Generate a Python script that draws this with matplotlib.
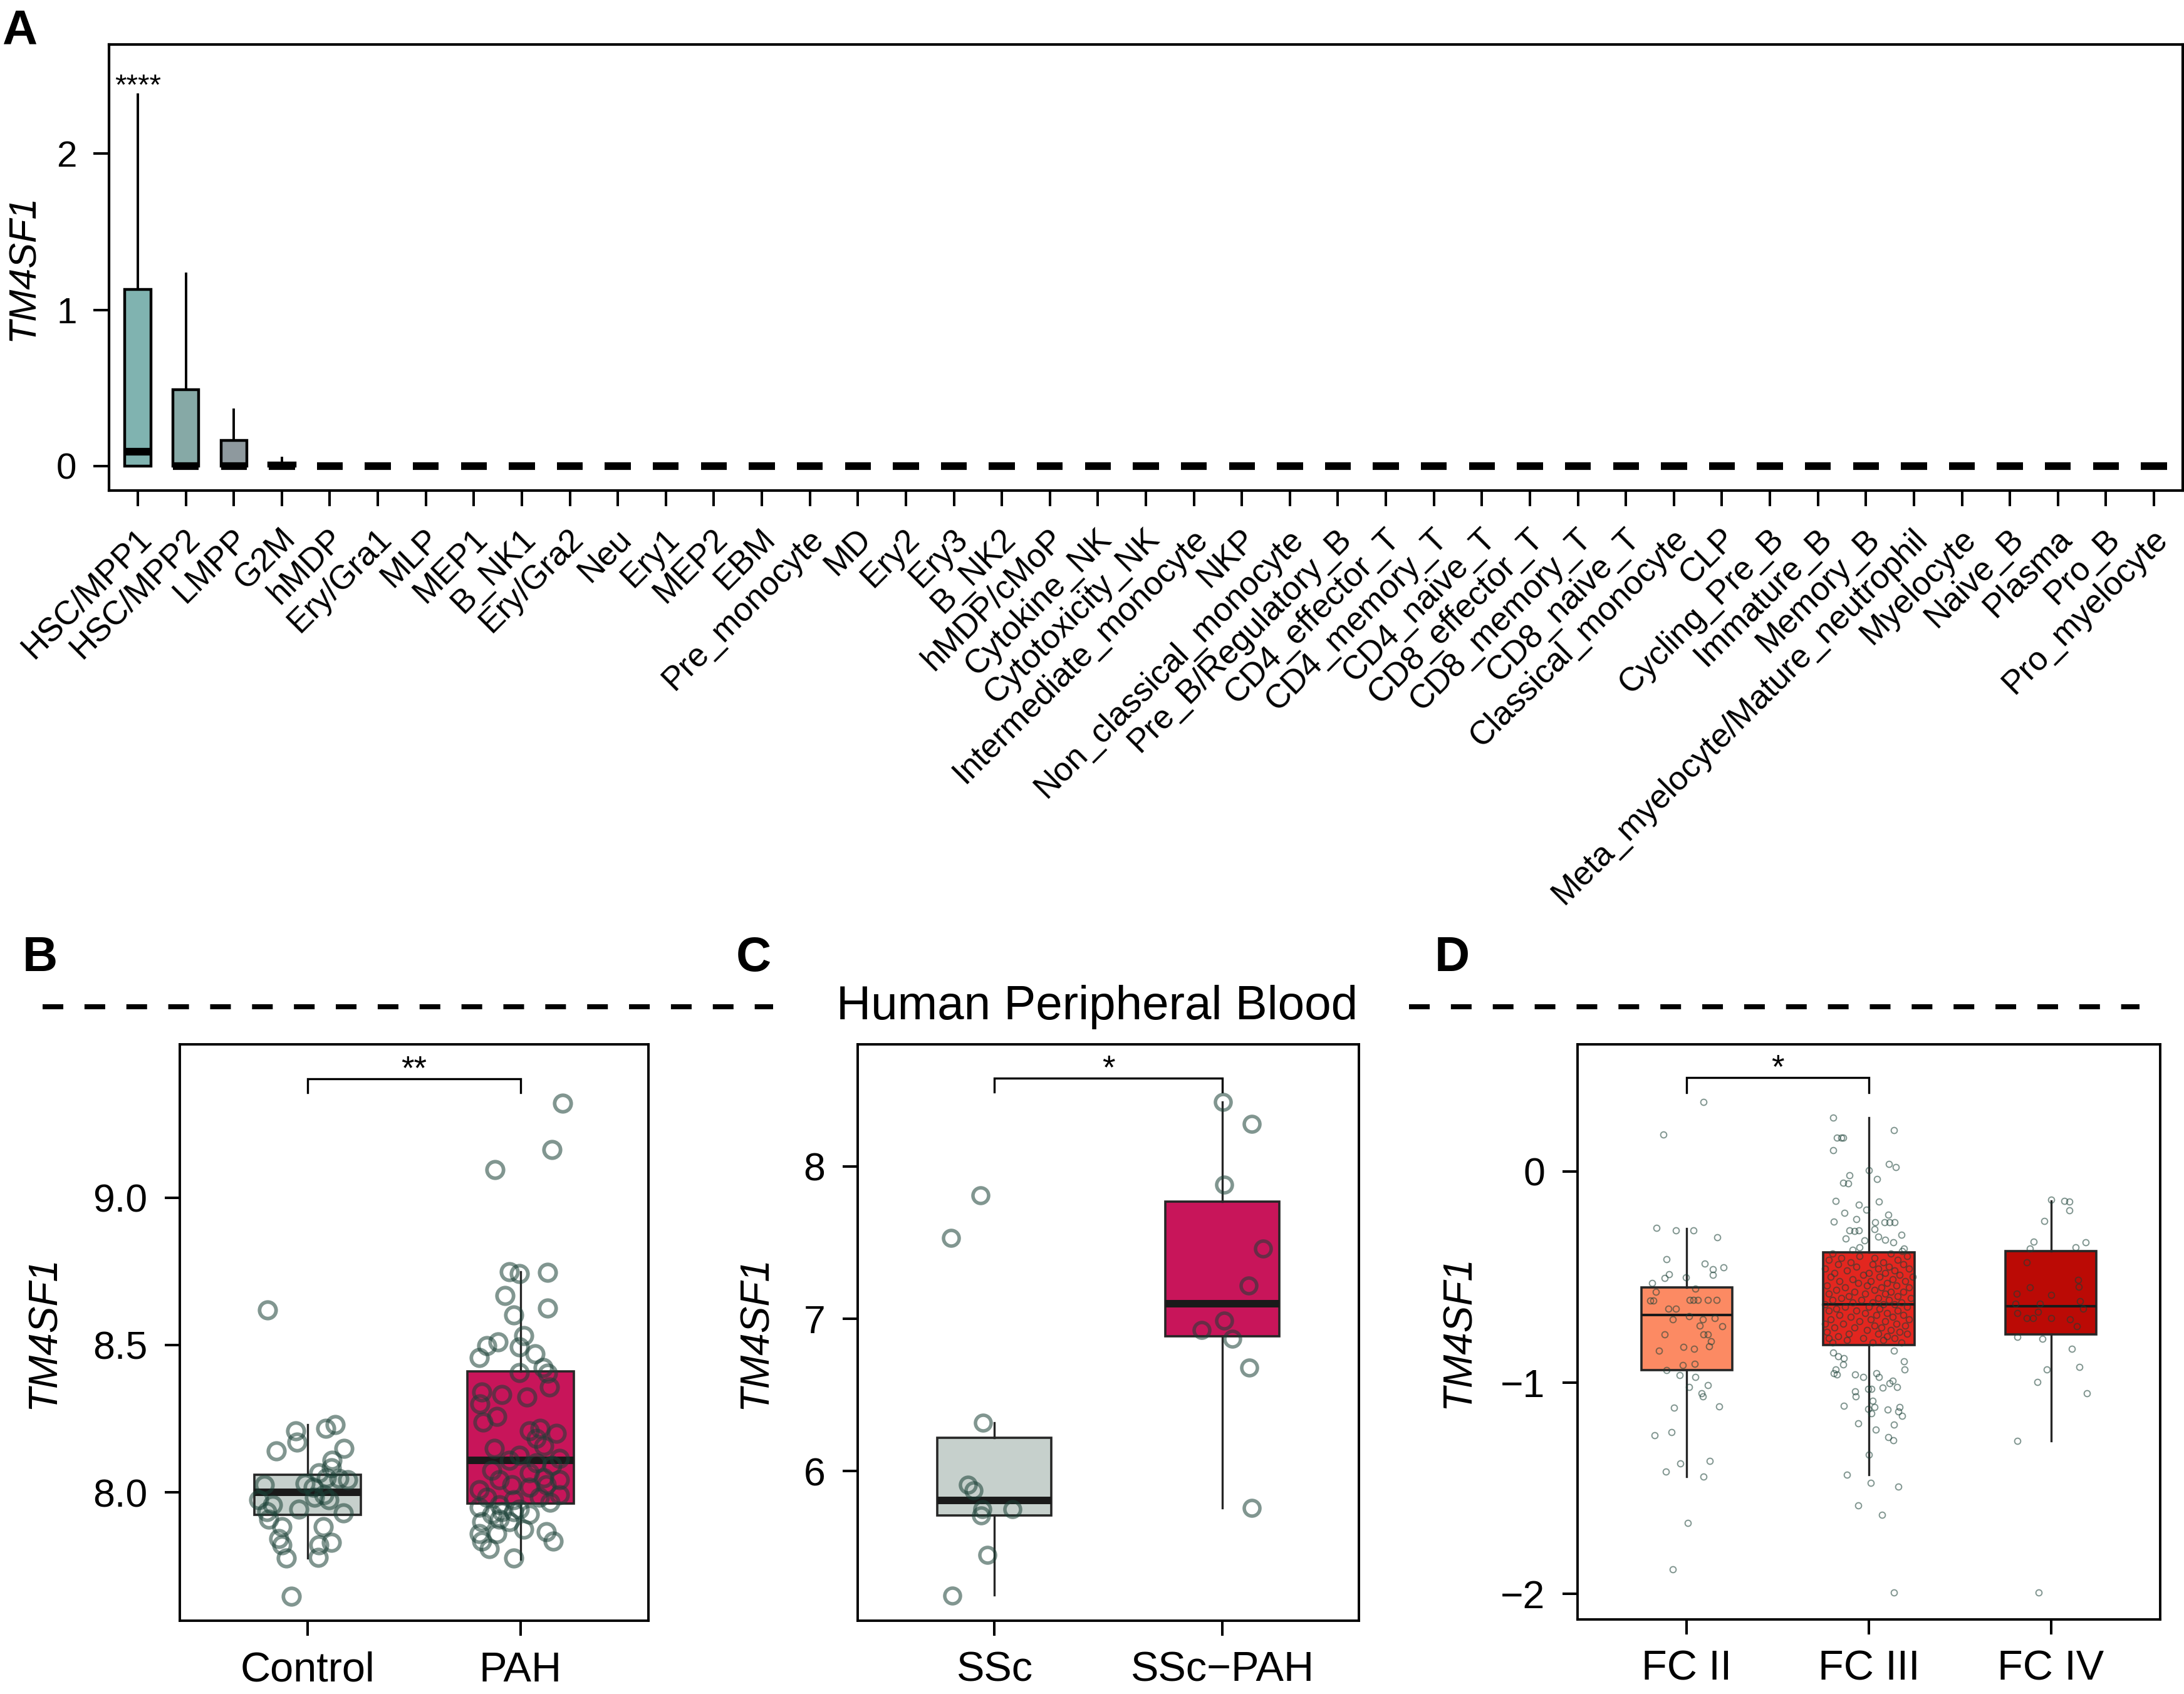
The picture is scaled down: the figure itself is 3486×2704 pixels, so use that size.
import numpy as np
import matplotlib
matplotlib.use('Agg')
import matplotlib.pyplot as plt
from matplotlib.lines import Line2D
from matplotlib.transforms import ScaledTranslation

plt.rcParams['font.family'] = ['Liberation Sans', 'DejaVu Sans']

# ---------------- data ----------------
cell_types = ["HSC/MPP1", "HSC/MPP2", "LMPP", "G2M", "hMDP", "Ery/Gra1", "MLP", "MEP1",
              "B_NK1", "Ery/Gra2", "Neu", "Ery1", "MEP2", "EBM", "Pre_monocyte", "MD",
              "Ery2", "Ery3", "B_NK2", "hMDP/cMoP", "Cytokine_NK", "Cytotoxicity_NK",
              "Intermediate_monocyte", "NKP", "Non_classical_monocyte", "Pre_B/Regulatory_B",
              "CD4_effector_T", "CD4_memory_T", "CD4_naive_T", "CD8_effector_T",
              "CD8_memory_T", "CD8_naive_T", "Classical_monocyte", "CLP", "Cycling_Pre_B",
              "Immature_B", "Memory_B", "Meta_myelocyte/Mature_neutrophil", "Myelocyte",
              "Naive_B", "Plasma", "Pro_B", "Pro_myelocyte"]
n_a = len(cell_types)
a_q1 = [0.0] * n_a
a_med = [0.09] + [0.0] * (n_a - 1)
a_q3 = [1.13, 0.49, 0.165, 0.02] + [0.0] * (n_a - 4)
a_whislo = [0.0] * n_a
a_whishi = [2.38, 1.23, 0.36, 0.05] + [0.0] * (n_a - 4)
a_colors = ["#80b3b0", "#86a9a6", "#8e999e"] + ["#7f8a8a"] * (n_a - 3)
a_sig = "****"

# Panel B
b_groups = ["Control", "PAH"]
b_q1 = [7.923, 7.962]
b_med = [8.0, 8.108]
b_q3 = [8.06, 8.41]
b_whislo = [7.777, 7.772]
b_whishi = [8.23, 8.749]
b_ctrl_vals = [8.62, 8.14, 8.208, 8.171, 8.216, 8.229, 8.148, 8.108, 8.066, 8.030, 8.017,
               8.050, 8.047, 8.042, 8.083, 8.025, 7.975, 7.958, 7.934, 7.942, 7.983, 7.992,
               7.975, 7.909, 7.929, 7.884, 7.884, 7.842, 7.822, 7.829, 7.822, 7.776, 7.779,
               7.648]
b_ctrl_jit = [-0.188, -0.146, -0.056, -0.049, 0.085, 0.129, 0.171, 0.115, 0.054, -0.012,
              0.026, 0.089, 0.148, 0.188, 0.113, -0.204, -0.228, -0.164, -0.192, -0.040,
              0.031, 0.077, 0.101, -0.181, 0.167, -0.122, 0.073, -0.134, -0.122, 0.113,
              0.054, -0.099, 0.049, -0.075]
b_pah_vals = [9.321, 9.163, 9.096, 8.748, 8.743, 8.746, 8.669, 8.601, 8.626, 8.457, 8.498,
              8.510, 8.532, 8.493, 8.470, 8.424, 8.404, 8.407, 8.341, 8.332, 8.324, 8.357,
              8.299, 8.257, 8.238, 8.208, 8.216, 8.199, 8.183, 8.150, 8.158, 8.125, 8.108,
              8.116, 8.100, 8.091, 8.075, 8.066, 8.050, 8.042, 8.042, 8.025, 8.017, 8.025,
              8.008, 7.992, 7.983, 7.975, 7.983, 7.958, 7.967, 7.950, 7.942, 7.925, 7.934,
              7.934, 7.925, 7.900, 7.909, 7.900, 7.859, 7.859, 7.875, 7.867, 7.834, 7.809,
              7.834, 7.776]
b_pah_jit = [0.197, 0.146, -0.120, -0.054, -0.007, 0.127, -0.073, -0.031, 0.127, -0.195,
             -0.160, -0.106, 0.016, -0.007, 0.068, 0.106, 0.127, -0.007, -0.183, -0.089,
             0.028, 0.134, -0.190, -0.113, -0.176, 0.040, 0.092, 0.169, 0.075, -0.124,
             0.110, -0.007, -0.054, 0.181, 0.075, 0.146, -0.136, 0.040, 0.110, -0.101,
             0.181, -0.042, 0.040, 0.122, -0.195, 0.181, -0.160, -0.031, 0.087, -0.101,
             0.138, -0.195, -0.007, -0.136, -0.089, -0.031, 0.040, -0.183, -0.101, -0.054,
             -0.195, -0.113, 0.016, 0.122, -0.183, -0.148, 0.153, -0.031]
b_sig = "**"

# Panel C
c_groups = ["SSc", "SSc\u2212PAH"]
c_q1 = [5.71, 6.885]
c_med = [5.81, 7.10]
c_q3 = [6.218, 7.77]
c_whislo = [5.19, 5.76]
c_whishi = [6.32, 8.42]
c_ssc_vals = [7.53, 7.81, 6.32, 5.91, 5.875, 5.75, 5.71, 5.75, 5.45, 5.185]
c_ssc_jit = [-0.19, -0.06, -0.05, -0.115, -0.09, -0.054, -0.057, 0.08, -0.03, -0.185]
c_pah_vals = [8.42, 8.28, 7.88, 7.46, 7.22, 6.99, 6.925, 6.87, 6.68, 5.76]
c_pah_jit = [0.003, 0.13, 0.01, 0.18, 0.115, 0.01, -0.09, 0.045, 0.12, 0.13]
c_sig = "*"

# Panel D
d_groups = ["FC II", "FC III", "FC IV"]
d_q1 = [-0.941, -0.823, -0.772]
d_med = [-0.679, -0.628, -0.637]
d_q3 = [-0.549, -0.382, -0.378]
d_whislo = [-1.444, -1.437, -1.275]
d_whishi = [-0.271, 0.255, -0.139]
d_colors = ["#fc8a63", "#e3261f", "#bb0a05"]
d_sig = "*"
d_fc2_vals = [0.329, 0.176, -0.267, -0.280, -0.278, -0.313, -0.417, -0.436, -0.454, -0.463,
              -0.487, -0.491, -0.501, -0.505, -0.528, -0.570, -0.556, -0.612, -0.612, -0.610,
              -0.610, -0.610, -0.610, -0.610, -0.651, -0.651, -0.686, -0.702, -0.702, -0.695,
              -0.730, -0.732, -0.772, -0.772, -0.772, -0.804, -0.827, -0.830, -0.839, -0.848,
              -0.918, -0.911, -0.941, -0.964, -0.973, -1.020, -1.013, -1.066, -1.050, -1.119,
              -1.112, -1.235, -1.251, -1.384, -1.421, -1.372, -1.444, -1.666, -1.884]
d_fc2_jit = [0.090, -0.127, -0.167, -0.059, 0.037, 0.167, -0.113, 0.099, 0.203, 0.144,
             -0.096, 0.144, -0.006, -0.121, -0.192, -0.169, 0.048, -0.201, -0.184, 0.017,
             0.037, 0.059, 0.116, 0.164, -0.102, -0.059, 0.011, -0.076, 0.088, 0.153,
             0.071, 0.195, -0.121, 0.090, 0.116, 0.133, 0.124, -0.020, 0.040, -0.153,
             -0.023, 0.045, -0.113, -0.040, 0.048, 0.014, 0.116, 0.088, 0.082, -0.071,
             0.178, -0.085, -0.178, -0.037, -0.116, 0.127, 0.093, 0.006, -0.076]
d_fc3_vals = [0.255, 0.195, 0.160, 0.160, 0.160, 0.100, 0.035, 0.019, 0.005, -0.019,
              -0.053, -0.058, -0.035, -0.141, -0.144, -0.158, -0.181, -0.195, -0.204, -0.239,
              -0.227, -0.241, -0.241, -0.241, -0.241, -0.278, -0.283, -0.278, -0.273, -0.299,
              -0.317, -0.327, -0.308, -0.324, -0.336, -0.371, -0.359, -0.364, -0.378,
              -0.39, -0.39, -0.40, -0.40, -0.41, -0.41, -0.42, -0.42, -0.43, -0.43,
              -0.44, -0.44, -0.44, -0.45, -0.45, -0.46, -0.46, -0.46, -0.47, -0.47,
              -0.48, -0.48, -0.48, -0.49, -0.49, -0.50, -0.50, -0.50, -0.51, -0.51,
              -0.52, -0.52, -0.52, -0.53, -0.53, -0.54, -0.54, -0.54, -0.55, -0.55, -0.55,
              -0.56, -0.56, -0.57, -0.57, -0.57, -0.58, -0.58, -0.58, -0.59, -0.59,
              -0.60, -0.60, -0.60, -0.61, -0.61, -0.61, -0.62, -0.62, -0.62,
              -0.63, -0.63, -0.63, -0.64, -0.64, -0.64, -0.65, -0.65, -0.66, -0.66, -0.66,
              -0.67, -0.67, -0.68, -0.68, -0.68, -0.69, -0.69, -0.70, -0.70, -0.70,
              -0.71, -0.71, -0.72, -0.72, -0.72, -0.73, -0.73, -0.74, -0.74, -0.74,
              -0.75, -0.75, -0.76, -0.76, -0.77, -0.77, -0.77, -0.78, -0.78,
              -0.79, -0.79, -0.79, -0.80, -0.80, -0.81, -0.81, -0.81,
              -0.857, -0.876, -0.885, -0.848, -0.899, -0.915, -0.939, -0.957, -0.962, -0.939,
              -0.962, -0.973, -0.955, -0.973, -0.992, -1.003, -1.020, -1.024, -1.031, -1.043,
              -1.029, -1.066, -1.085, -1.117, -1.124, -1.147, -1.110, -1.117, -1.136, -1.129,
              -1.159, -1.193, -1.200, -1.224, -1.258, -1.272, -1.342, -1.437, -1.474, -1.492,
              -1.583, -1.627, -1.995]
d_fc3_jit = [-0.195, 0.136, -0.175, -0.153, -0.141, -0.195, 0.110, 0.147, 0.000, -0.105,
             -0.141, -0.113, 0.045, -0.184, 0.054, -0.054, -0.014, -0.133, 0.107, -0.192,
             -0.068, 0.034, 0.085, 0.113, 0.141, -0.107, -0.079, -0.056, 0.031, 0.178,
             -0.127, -0.023, 0.051, 0.090, 0.133, -0.088, -0.051, 0.192, 0.184,
             -0.20, 0.12, -0.05, 0.21, 0.03, -0.15, -0.22, 0.16, 0.08, -0.10,
             -0.17, 0.02, 0.19, 0.11, -0.07, -0.24, 0.05, 0.22, -0.12, 0.14,
             0.00, -0.19, 0.09, 0.17, -0.03, -0.21, 0.06, 0.24, -0.09, 0.13,
             0.01, -0.16, 0.20, -0.06, 0.10, -0.23, 0.15, -0.01, 0.07, -0.13, 0.22,
             -0.18, 0.03, 0.12, -0.08, 0.19, -0.02, -0.22, 0.09, 0.16, -0.11,
             -0.15, 0.05, 0.23, -0.04, 0.11, -0.20, 0.18, -0.09, 0.02,
             -0.24, 0.08, 0.14, -0.13, 0.00, 0.21, 0.06, -0.18, -0.07, 0.16, -0.22,
             0.10, -0.02, -0.16, 0.19, 0.04, -0.10, 0.13, 0.01, -0.21, 0.22,
             -0.05, 0.09, 0.15, -0.14, -0.24, 0.03, 0.20, -0.19, 0.07, -0.08,
             0.12, -0.01, -0.23, 0.17, 0.05, -0.11, 0.21, -0.17, 0.10,
             -0.03, 0.14, -0.22, 0.08, -0.12, -0.20, 0.18, 0.02,
             -0.195, -0.169, -0.136, 0.136, 0.192, -0.141, -0.181, -0.192, -0.175, 0.195,
             -0.076, -0.031, 0.042, 0.056, 0.130, 0.113, 0.155, 0.076, 0.014, -0.076,
             -0.003, -0.071, 0.020, 0.031, -0.003, 0.014, -0.138, 0.167, 0.161, 0.102,
             0.181, -0.059, 0.138, 0.037, 0.105, 0.133, 0.000, -0.119, 0.011, 0.161,
             -0.059, 0.071, 0.136]
d_fc4_vals = [-0.134, -0.139, -0.144, -0.185, -0.234, -0.334, -0.336, -0.359, -0.364, -0.431,
              -0.515, -0.545, -0.549, -0.579, -0.584, -0.626, -0.614, -0.626, -0.672, -0.695,
              -0.695, -0.665, -0.695, -0.700, -0.649, -0.732, -0.783, -0.793, -0.839, -0.939,
              -0.927, -0.997, -1.050, -1.275, -1.995]
d_fc4_jit = [0.003, 0.073, 0.102, 0.102, -0.037, -0.096, 0.192, 0.136, -0.116, -0.133,
             0.150, 0.153, -0.116, -0.189, 0.000, -0.195, 0.158, -0.059, -0.184, -0.133,
             -0.099, -0.071, 0.003, 0.105, 0.178, 0.144, -0.186, -0.048, 0.116, -0.023,
             0.155, -0.076, 0.198, -0.184, -0.068]

# ---------------- figure ----------------
W, H = 3487, 2704
DPI = 100
fig = plt.figure(figsize=(W / DPI, H / DPI), dpi=DPI)


def rect(l, t, r, b):
    return [l / W, 1 - b / H, (r - l) / W, (b - t) / H]


def stats_list(q1, med, q3, lo, hi):
    return [dict(q1=a, med=m, q3=c, whislo=l, whishi=h, fliers=[])
            for a, m, c, l, h in zip(q1, med, q3, lo, hi)]


def style_axes(ax, spine_lw=3.0):
    for s in ax.spines.values():
        s.set_linewidth(spine_lw)
        s.set_color('black')


pt_col = (0.10, 0.25, 0.21, 0.55)

# ---------------- Panel A ----------------
axA = fig.add_axes(rect(174, 71, 3484, 783))
bpA = axA.bxp(stats_list(a_q1, a_med, a_q3, a_whislo, a_whishi),
              positions=range(n_a), widths=0.54, patch_artist=True,
              showcaps=False, showfliers=False,
              boxprops=dict(linewidth=3.2, edgecolor='black'),
              whiskerprops=dict(linewidth=2.8, color='black'),
              medianprops=dict(linewidth=8.8, color='black', solid_capstyle='butt'))
for p, c in zip(bpA['boxes'], a_colors):
    p.set_facecolor(c)
axA.set_xlim(-0.6, n_a - 1 + 0.6)
axA.set_ylim(-0.157, 2.70)
axA.set_yticks([0, 1, 2])
axA.set_xticks(range(n_a))
axA.set_xticklabels(cell_types, rotation=45, ha='right', va='center',
                    rotation_mode='anchor', fontsize=38)
axA.tick_params(axis='y', labelsize=42, length=18, width=2.9, pad=19)
axA.tick_params(axis='x', length=18, width=2.9, pad=32)
off = ScaledTranslation(0.14, 0, fig.dpi_scale_trans)
for lbl in axA.get_xticklabels():
    lbl.set_transform(lbl.get_transform() + off)
axA.set_ylabel('TM4SF1', fontstyle='italic', fontsize=44, va='center')
axA.yaxis.set_label_coords(-0.0411, 0.5)
axA.text(0, a_whishi[0], a_sig, ha='center', va='baseline', fontsize=34)
style_axes(axA)


def panel(ax_rect, groups, q1, med, q3, lo, hi, colors, points, ylim, yticks,
          yticklabels, sig, bracket, label_x, box_w=0.5, med_lw=8.6, ms=19, mew=4.2,
          edge='#262626'):
    ax = fig.add_axes(ax_rect)
    n = len(groups)
    bp = ax.bxp(stats_list(q1, med, q3, lo, hi), positions=range(n), widths=box_w,
                patch_artist=True, showcaps=False, showfliers=False,
                boxprops=dict(linewidth=2.6, edgecolor=edge),
                whiskerprops=dict(linewidth=2.4, color=edge),
                medianprops=dict(linewidth=med_lw, color='#1a1a1a', solid_capstyle='butt'))
    for p, c in zip(bp['boxes'], colors):
        p.set_facecolor(c)
        p.set_zorder(2)
    for i, (vals, jit) in enumerate(points):
        xs = [i + j for j in jit]
        ax.plot(xs, vals, linestyle='none', marker='o', markersize=ms,
                markerfacecolor='none', markeredgecolor=pt_col, markeredgewidth=mew,
                zorder=3)
    ax.set_xlim(-0.6, n - 1 + 0.6)
    ax.set_ylim(*ylim)
    ax.set_xticks(range(n))
    ax.set_xticklabels(groups, fontsize=48)
    ax.set_yticks(yticks)
    ax.set_yticklabels(yticklabels)
    ax.tick_params(axis='y', labelsize=45, length=17, width=2.9, pad=20)
    ax.tick_params(axis='x', length=17, width=2.9, pad=18)
    ax.set_ylabel('TM4SF1', fontstyle='italic', fontsize=46, va='center')
    ax.yaxis.set_label_coords(label_x, 0.5)
    # significance bracket
    g0, g1, ytop, yleg = bracket
    ax.plot([g0, g0, g1, g1], [yleg, ytop, ytop, yleg], color='black', lw=2.4,
            solid_joinstyle='miter')
    ax.text((g0 + g1) / 2, ytop, sig, ha='center', va='baseline', fontsize=38)
    style_axes(ax, 2.8)
    return ax


b_colors = ["#c6d0cc", "#c8155a"]
panel(rect(287, 1667, 1035, 2587), b_groups, b_q1, b_med, b_q3, b_whislo, b_whishi,
      b_colors, [(b_ctrl_vals, b_ctrl_jit), (b_pah_vals, b_pah_jit)],
      (7.564, 9.521), [8.0, 8.5, 9.0], ["8.0", "8.5", "9.0"], b_sig,
      (0, 1, 9.404, 9.357), -0.290)

panel(rect(1369, 1667, 2169, 2587), c_groups, c_q1, c_med, c_q3, c_whislo, c_whishi,
      b_colors, [(c_ssc_vals, c_ssc_jit), (c_pah_vals, c_pah_jit)],
      (5.02, 8.80), [6, 7, 8], ["6", "7", "8"], c_sig,
      (0, 1, 8.577, 8.487), -0.204, ms=18, mew=4.0)

panel(rect(2518, 1667, 3448, 2585), d_groups, d_q1, d_med, d_q3, d_whislo, d_whishi,
      d_colors, [(d_fc2_vals, d_fc2_jit), (d_fc3_vals, d_fc3_jit), (d_fc4_vals, d_fc4_jit)],
      (-2.122, 0.602), [-2, -1, 0], ["\u22122", "\u22121", "0"], d_sig,
      (0, 1, 0.445, 0.375), -0.205, med_lw=2.9, ms=7.0, mew=1.4)

# ---------------- decorations ----------------
for (x0, x1) in [(68, 1234), (2249, 3415)]:
    fig.add_artist(Line2D([x0 / W, x1 / W], [1 - 1607 / H, 1 - 1607 / H],
                          transform=fig.transFigure, color='black', linewidth=5.8,
                          dashes=(4.1, 4.2), dash_capstyle='butt'))
fig.text(1751 / W, 1 - 1627 / H, 'Human Peripheral Blood', ha='center', va='baseline',
         fontsize=55)
for letter, x, yb in [('A', 3, 71), ('B', 36, 1550), ('C', 1175, 1550), ('D', 2290, 1550)]:
    fig.text(x / W, 1 - yb / H, letter, ha='left', va='baseline', fontsize=56,
             fontweight='bold')

fig.savefig('out.png', dpi=DPI)
